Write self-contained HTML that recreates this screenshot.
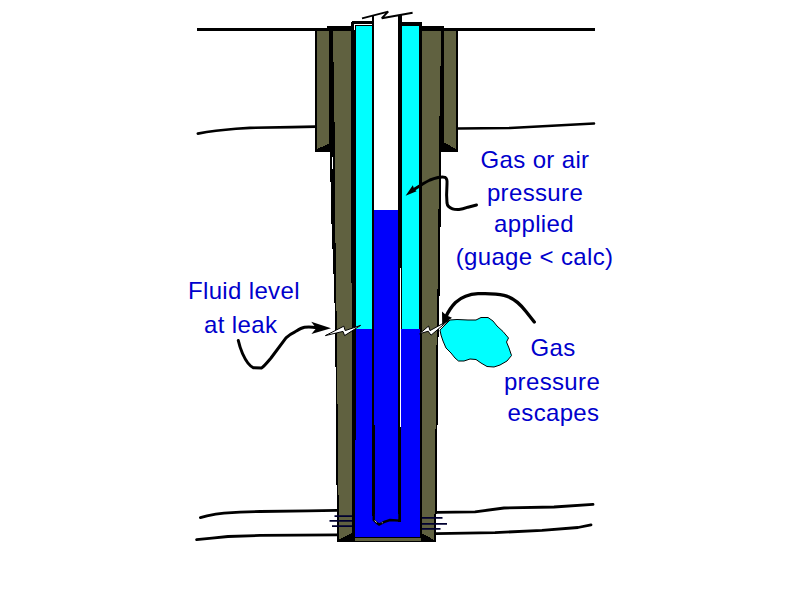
<!DOCTYPE html>
<html>
<head>
<meta charset="utf-8">
<title>Fluid level at leak</title>
<style>
html,body{margin:0;padding:0;background:#fff;}
body{width:800px;height:600px;overflow:hidden;position:relative;}
svg{position:absolute;left:0;top:0;display:block;}
text{font-family:"Liberation Sans",sans-serif;font-size:24px;fill:#0000cc;letter-spacing:0.35px;}
.k{fill:#000;}
.o{fill:#606140;}
.c{fill:#00ffff;}
.b{fill:#0000fc;}
.l{fill:none;stroke:#000;stroke-width:3;stroke-linecap:round;stroke-linejoin:round;}
.p{fill:none;stroke:#000030;stroke-width:1.7;}
</style>
</head>
<body>
<svg width="800" height="600" viewBox="0 0 800 600">
<!-- ground / formation lines -->
<g shape-rendering="crispEdges">
<rect class="k" x="197" y="28" width="120" height="3"/>
<rect class="k" x="457" y="28" width="138" height="3"/>
</g>
<path class="l" style="stroke-width:2.6" d="M197.8 133.6 Q215 130.4 236 128.8 L250 127.9 L292 127.1 L316 126.6"/>
<path class="l" style="stroke-width:2.6" d="M458 128.5 L510 128 L594 123.5"/>
<path class="l" style="stroke-width:2.8" d="M200.4 517.6 L207 515.8 Q216 513.8 224 513.1 L240 512.1 L260 511.5 L308 510.8 L337 510.4"/>
<path class="l" style="stroke-width:2.8" d="M196.6 539.6 L212 538.2 L228 536.5 L260 535.4 L337 534.8"/>
<path class="l" style="stroke-width:2.8" d="M436 512.3 L475 511.8 L504 508 L554 507 L593 504.3"/>
<path class="l" style="stroke-width:2.8" d="M436 533.6 L495 532.6 L542 530.4 L578 527.5 L591 524.8"/>

<g shape-rendering="crispEdges">
<!-- outer (surface) casing -->
<path class="k" d="M315 28H333V151.5H315Z"/>
<path class="o" d="M317 31H329V143.8L317 148.8Z"/>
<path class="k" d="M440 28H458V151.5H440Z"/>
<path class="o" d="M444 31H455.7V148.8L444 142.5Z"/>

<!-- intermediate casing body (black backing) -->
<path class="k" d="M327 26H444.3V31H444V151H440.9L440.7 212L439.8 285L438.6 330L436.2 541.8H337L335.2 330L334.2 290L331.7 230L330.8 200L330 151H329V31H327Z"/>
<path class="k" d="M351 22.5L352.5 21.2H372V31H351Z M400 22H421.8V31H400Z"/>
<rect class="k" x="371.6" y="14.5" width="30" height="18"/>
<path class="o" d="M333 31H350.8V283H352V533.2L339 539.6L336.7 330L336.3 290L335.3 230L335 151Z"/>
<path class="o" d="M422.2 31H441.2L438.8 152L438.5 212L437.6 285L436.7 330L434.2 540L422.2 533.5Z"/>
<rect class="o" x="354.5" y="538" width="66" height="2.7"/>
<rect x="331.5" y="157" width="1.5" height="12" fill="#fff"/>

<!-- inner casing annulus -->
<rect class="c" x="355.8" y="25.6" width="16.4" height="303.6"/>
<rect class="c" x="401.8" y="25.6" width="17.5" height="303.6"/>
<rect class="b" x="355.5" y="329.2" width="16.5" height="207.7"/>
<rect class="b" x="354.6" y="440" width="17.4" height="96.9"/>
<rect class="b" x="400.8" y="329.2" width="18.7" height="207.7"/>
<rect class="b" x="400.8" y="440" width="19.2" height="96.9"/>
<rect class="b" x="371" y="516" width="31" height="20.9"/>
<path d="M354 30V24.6H372" fill="none" stroke="#fff" stroke-width="1"/>

<!-- tubing -->
<rect x="374" y="10" width="24.3" height="200" fill="#fff"/>
<rect class="b" x="374.2" y="210.3" width="24.1" height="300"/>
<rect class="b" x="375" y="425" width="23.3" height="90"/>
<rect class="k" x="372.5" y="425" width="2.5" height="95"/>
<rect class="k" x="398.3" y="500" width="2.5" height="22"/>
<rect x="400" y="268" width="1.1" height="158.5" fill="#fff"/>
</g>

<!-- tubing bottom -->
<path d="M373.7 514V520 Q376.5 523 379.3 524.6 Q384 521.5 390 520 L399.5 520.6 V514" fill="#0000fc" stroke="#000" stroke-width="2.4" stroke-linejoin="round"/>
<rect class="b" x="375" y="510" width="23.3" height="6" shape-rendering="crispEdges"/>
<path d="M374.8 520.5 L376.6 522.6 M381.8 522.4 L382.6 522.8" stroke="#fff" stroke-width="0.9" fill="none"/>

<!-- perforations -->
<path class="p" d="M334.5 516.2H352 M329.5 520.8H352 M332 526.2H352"/>
<path class="p" d="M422 517.8H442.5 M422 523.8H447 M422 528.8H440.5"/>

<!-- break symbol at top -->
<path d="M362 18.3 L388.2 11.7 L381.8 18.2 L412.6 12.8" fill="none" stroke="#000" stroke-width="1.9" stroke-linejoin="bevel"/>

<!-- leak symbols -->
<path d="M325.4 335.6 L343.8 326.2 L345.2 330.6 L360.6 325.4 L344.6 335.6 L343 331.4 Z" fill="#fff" stroke="#000" stroke-width="1" stroke-linejoin="miter"/>
<path d="M419.6 333.8 L428.6 326 L430 330.6 L448.6 320.4 L431 335.2 L428.2 331.2 Z" fill="#fff" stroke="#000" stroke-width="1" stroke-linejoin="miter"/>

<!-- gas cloud -->
<path d="M440 330 L445 325 L450 320 L457 319.5 L468 320 L476 320 L481 317.5 L488 317.5 L493 321 L497 326 L503 331.5 L508.5 338 L506.5 342 L509 348 L511.5 355.5 L507 361 L500 365 L494 367 L487 366.5 L481 363 L476 359.5 L470 359 L464 361 L458.5 361 L455 358 L451 353 L446 348 L443 341 L441 335 Z" fill="#00ffff" stroke="#000" stroke-width="1"/>

<!-- arrows -->
<path class="l" d="M476.5 205 L468 207.2 C465 208.3 462 209.3 459 209.5 C456 209.6 454 209.4 452.5 208.8 C449 207.5 447.3 205.5 447 203 L446.6 195 L447 184 C447.3 181 447 178.5 445 177.3 C443 176.6 440 177 438 177.5 C435 178.2 432 179.2 430 180 C426 181.8 424 183.3 422 184.5 L413 190"/>
<path class="k" d="M405.6 195.8 L412.8 185.2 L414.2 189 L416.6 191.2 Z"/>

<path class="l" style="stroke-width:3.3" d="M534.3 322 L526 311.5 C521 305 513 297.5 504 295.3 C497 293.6 486 293.4 478 293.7 C468 294.2 461 297.5 455.5 302.5 C451 307 448 312 445.5 317.5"/>
<path class="k" d="M442.2 325 L442 311.6 L446.2 315.2 L452 317.8 Z"/>

<path class="l" d="M238.3 340.5 C239.5 346 241 350 242.5 353.5 C244.5 358 248 365.5 253.5 367.8 L261.5 368 C264 366.5 268 361.5 271 358 L286 337.8 C289 335 292 333.2 295 331.8 C298 330 301 328 304.5 327.3 C308 326.6 312 326.8 317 327.8"/>
<path class="k" d="M331 328.3 L311.2 321.8 L316.2 328.2 L311.4 334 Z"/>

<!-- labels -->
<text x="535" y="168.3" text-anchor="middle">Gas or air</text>
<text x="535" y="200.6" text-anchor="middle">pressure</text>
<text x="534" y="232.1" text-anchor="middle">applied</text>
<text x="534.5" y="264.6" text-anchor="middle">(guage &lt; calc)</text>
<text x="243.9" y="298.6" text-anchor="middle">Fluid level</text>
<text x="240.7" y="332.8" text-anchor="middle">at leak</text>
<text x="553" y="355.7" text-anchor="middle">Gas</text>
<text x="552" y="389.5" text-anchor="middle">pressure</text>
<text x="553.5" y="420.6" text-anchor="middle">escapes</text>
</svg>
</body>
</html>
